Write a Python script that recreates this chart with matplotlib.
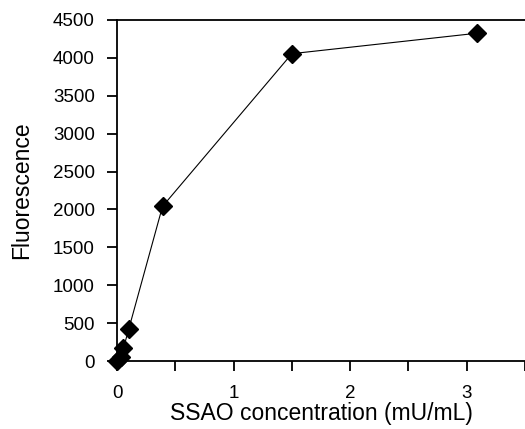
import matplotlib
matplotlib.use("Agg")
import matplotlib.pyplot as plt
from matplotlib.ticker import MultipleLocator

plt.rcParams['font.family'] = ['Liberation Sans', 'DejaVu Sans']

# SSAO activity vs fluorescence
conc = [0, 0.03, 0.055, 0.1, 0.39, 1.5, 3.09]
fluor = [0, 50, 170, 420, 2040, 4055, 4325]

fig = plt.figure(figsize=(5.25, 4.29), dpi=100)
ax = fig.add_axes([0.223, 0.1585, 0.777, 0.795])

ax.plot(conc, fluor, '-', color='black', linewidth=0.8,
        marker='D', markersize=9.5, markerfacecolor='black', clip_on=False)

ax.set_xlim(0, 3.5)
ax.set_ylim(0, 4500)
ax.xaxis.set_major_locator(MultipleLocator(1))
ax.xaxis.set_minor_locator(MultipleLocator(0.5))
ax.yaxis.set_major_locator(MultipleLocator(500))

ax.spines['right'].set_visible(False)
for s in ['left', 'bottom', 'top']:
    ax.spines[s].set_linewidth(1.3)

ax.tick_params(which='both', direction='out', width=1.3, labelsize=13.5, length=7)
ax.tick_params(axis='x', pad=10)
ax.tick_params(axis='y', pad=9)

ax.set_xlabel('SSAO concentration (mU/mL)', fontsize=16.5, labelpad=0)
ax.set_ylabel('Fluorescence', fontsize=16.5, labelpad=14)

fig.savefig('out.png', dpi=100)
